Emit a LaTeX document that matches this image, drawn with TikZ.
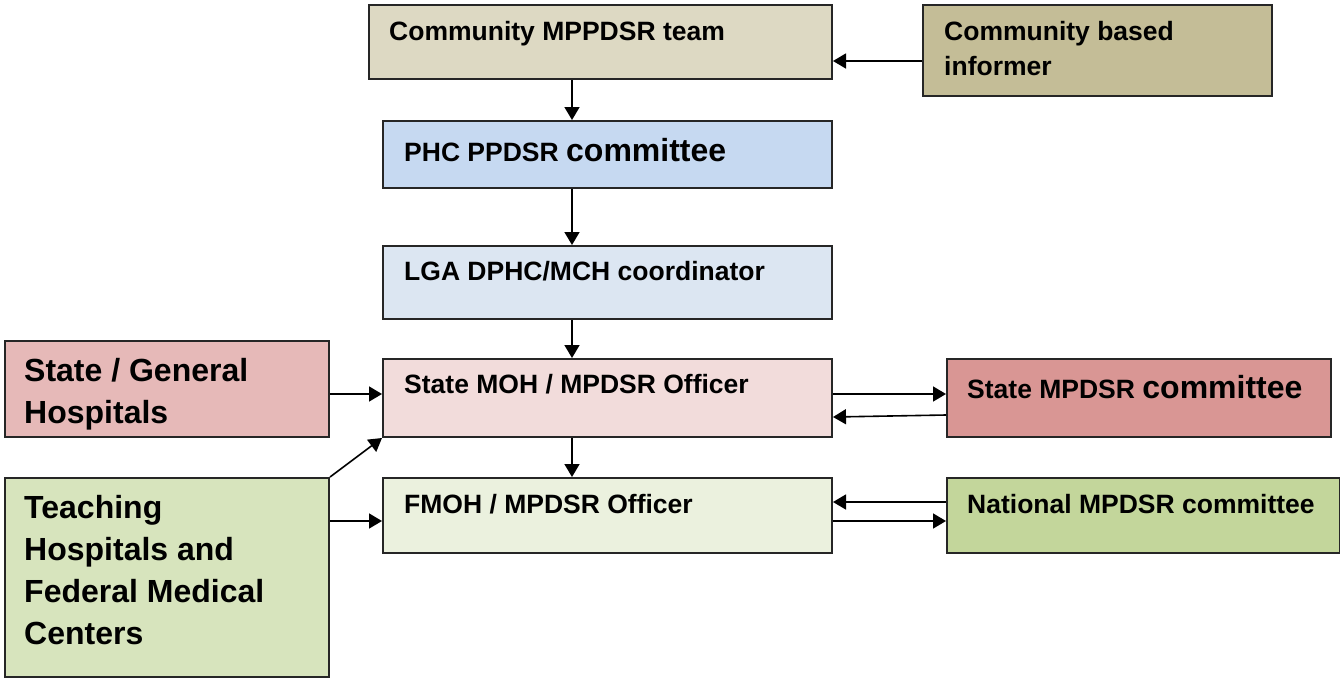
\documentclass[tikz,border=0pt]{standalone}
\usepackage{fontspec}
\setmainfont{Liberation Sans}
\usetikzlibrary{calc,arrows.meta}

\newcommand\lgtxt{\fontsize{32}{42}\selectfont}

\definecolor{cTeam}{HTML}{DDD9C3}
\definecolor{cInf}{HTML}{C4BD97}
\definecolor{cPhc}{HTML}{C6D9F1}
\definecolor{cLga}{HTML}{DCE6F2}
\definecolor{cMoh}{HTML}{F2DCDB}
\definecolor{cSgh}{HTML}{E6B9B8}
\definecolor{cSc}{HTML}{D99694}
\definecolor{cFmoh}{HTML}{EBF1DE}
\definecolor{cNat}{HTML}{C3D69B}
\definecolor{cTeach}{HTML}{D7E4BD}

\tikzset{
  box/.style={draw=black!85, line width=2pt, rectangle, anchor=north west, inner sep=0pt},
  lbl/.style={anchor=base west, inner sep=0pt, font=\bfseries\fontsize{26.5}{35}\selectfont},
  lblbig/.style={anchor=base west, inner sep=0pt, font=\bfseries\lgtxt},
  arr/.style={line width=1.6pt, -{Triangle[length=13pt,width=15pt]}},
}

\begin{document}
\begin{tikzpicture}[x=1pt,y=-1pt]
\useasboundingbox (0,0) rectangle (1340,678);

% boxes
\node[box, fill=cTeam,  minimum width=463pt, minimum height=74pt]  (team)  at (368,4) {};
\node[box, fill=cInf,   minimum width=349pt, minimum height=91pt]  (inf)   at (922,4) {};
\node[box, fill=cPhc,   minimum width=449pt, minimum height=67pt]  (phc)   at (382,120) {};
\node[box, fill=cLga,   minimum width=449pt, minimum height=73pt]  (lga)   at (382,245) {};
\node[box, fill=cMoh,   minimum width=449pt, minimum height=78pt]  (moh)   at (382,358) {};
\node[box, fill=cSgh,   minimum width=324pt, minimum height=96pt]  (sgh)   at (4,340) {};
\node[box, fill=cSc,    minimum width=384pt, minimum height=78pt]  (sc)    at (946,358) {};
\node[box, fill=cFmoh,  minimum width=449pt, minimum height=75pt]  (fmoh)  at (382,477) {};
\node[box, fill=cNat,   minimum width=393pt, minimum height=75pt]  (nat)   at (946,477) {};
\node[box, fill=cTeach, minimum width=324pt, minimum height=199pt] (teach) at (4,477) {};

% labels
\node[lbl] (tTeam) at ($(team.north west)+(21,36)$) {Community MPPDSR team};
\node[lbl] (tInf)  at ($(inf.north west)+(22,36)$)
  {\begin{tabular}[t]{@{}l@{}}Community based\\informer\end{tabular}};
\node[lbl] (tPhc)  at ($(phc.north west)+(22,41)$) {PHC PPDSR {\lgtxt committee}};
\node[lbl] (tLga)  at ($(lga.north west)+(22,35)$) {LGA DPHC/MCH coordinator};
\node[lbl] (tMoh)  at ($(moh.north west)+(22,35)$) {State MOH / MPDSR Officer};
\node[lbl] (tSc)   at ($(sc.north west)+(21,40)$) {State MPDSR {\lgtxt committee}};
\node[lbl] (tFmoh) at ($(fmoh.north west)+(22,36)$) {FMOH / MPDSR Officer};
\node[lbl] (tNat)  at ($(nat.north west)+(21,36)$) {National MPDSR committee};
\node[lblbig] (tSgh) at ($(sgh.north west)+(20,41)$)
  {\begin{tabular}[t]{@{}l@{}}State / General\\Hospitals\end{tabular}};
\node[lblbig] (tTeach) at ($(teach.north west)+(20,41)$)
  {\begin{tabular}[t]{@{}l@{}}Teaching\\Hospitals and\\Federal Medical\\Centers\end{tabular}};

% reference points for connector rows and the main column
\coordinate (spine) at (572,0);
\coordinate (yInf) at (0,61);
\coordinate (ySt)  at (0,394);
\coordinate (yScA) at (0,415);
\coordinate (yScB) at (0,417);
\coordinate (yNat) at (0,502);
\coordinate (yFm)  at (0,521);

% connectors
\draw[arr] (inf.west |- yInf) -- (team.east |- yInf);
\draw[arr] (team.south -| spine) -- (phc.north -| spine);
\draw[arr] (phc.south -| spine) -- (lga.north -| spine);
\draw[arr] (lga.south -| spine) -- (moh.north -| spine);
\draw[arr] (moh.south -| spine) -- (fmoh.north -| spine);
\draw[arr] (sgh.east |- ySt) -- (moh.west |- ySt);
\draw[arr] (moh.east |- ySt) -- (sc.west |- ySt);
\draw[arr] (sc.west |- yScA) -- (moh.east |- yScB);
\draw[arr] (teach.north east) -- (moh.south west);
\draw[arr] (teach.east |- yFm) -- (fmoh.west |- yFm);
\draw[arr] (nat.west |- yNat) -- (fmoh.east |- yNat);
\draw[arr] (fmoh.east |- yFm) -- (nat.west |- yFm);
\end{tikzpicture}
\end{document}
